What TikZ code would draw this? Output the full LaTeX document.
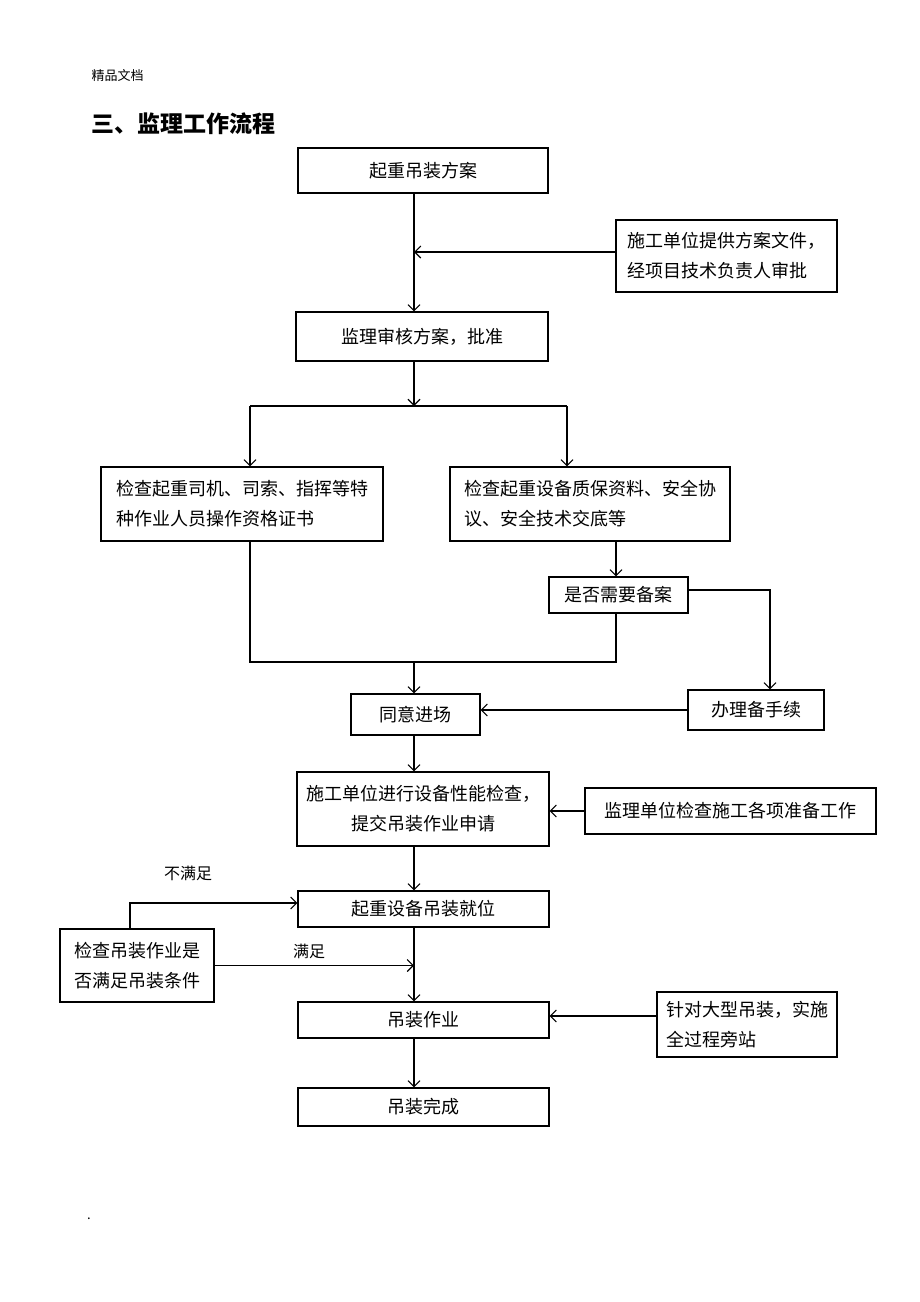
\documentclass[tikz,border=0pt]{standalone}
\usepackage{fontspec}
\setmainfont{Noto Sans CJK SC}
\usetikzlibrary{arrows.meta}
\tikzset{
  box/.style={draw,line width=1.1pt,inner sep=0pt,font=\fontsize{18}{30}\selectfont},
  lbl/.style={font=\fontsize{16}{20}\selectfont},
  line/.style={line width=1.1pt},
  arr/.style={line width=1.1pt,-{Straight Barb[length=6pt,width=12pt]}}
}
\begin{document}
\begin{tikzpicture}[x=1pt,y=-1pt]
\useasboundingbox (0,0) rectangle (920,1302);
\node[anchor=west,font=\fontsize{13}{15}\selectfont] (hd) at (88,76) {精品文档};
\node[anchor=west,font=\fontsize{23}{26}\selectfont\bfseries] (tt) at (88,124) {三、监理工作流程};
\node[box,minimum width=250,minimum height=45] (A) at (423,170.5) {起重吊装方案};
\node[box,minimum width=221,minimum height=72,align=left] (B) at (726.5,256) {施工单位提供方案文件，\\经项目技术负责人审批};
\node[box,minimum width=252,minimum height=49] (C) at (422,336.5) {监理审核方案，批准};
\node[box,minimum width=282,minimum height=74,align=left] (D) at (242,504) {检查起重司机、司索、指挥等特\\种作业人员操作资格证书};
\node[box,minimum width=280,minimum height=74,align=left] (E) at (590,504) {检查起重设备质保资料、安全协\\议、安全技术交底等};
\node[box,minimum width=139,minimum height=36] (F) at (618.5,595) {是否需要备案};
\node[box,minimum width=136,minimum height=40] (G) at (756,710) {办理备手续};
\node[box,minimum width=129,minimum height=41] (H) at (415.5,714.5) {同意进场};
\node[box,minimum width=252,minimum height=74,align=center] (I) at (423,809) {施工单位进行设备性能检查，\\提交吊装作业申请};
\node[box,minimum width=291,minimum height=46] (J) at (730.5,811) {监理单位检查施工各项准备工作};
\node[box,minimum width=251,minimum height=36] (K) at (423.5,909) {起重设备吊装就位};
\node[box,minimum width=154,minimum height=73,align=left] (L) at (137,965.5) {检查吊装作业是\\否满足吊装条件};
\node[box,minimum width=251,minimum height=36] (M) at (423.5,1020) {吊装作业};
\node[box,minimum width=180,minimum height=65,align=left] (N) at (747,1024.5) {针对大型吊装，实施\\全过程旁站};
\node[box,minimum width=251,minimum height=38] (O) at (423.5,1107) {吊装完成};
\node[lbl] (nsat) at (188,873) {不满足};
\node[lbl] (sat) at (309,951) {满足};
\node[font=\fontsize{13}{15}\selectfont] (dot) at (89,1219) {.};
\coordinate (sp) at (414,0);
\coordinate (br) at (414,406);
\coordinate (bl) at (250,406);
\coordinate (brr) at (567,406);
\coordinate (jl) at (250,662);
\coordinate (fj) at (616,662);
\coordinate (fg) at (770,590);
\coordinate (nf) at (130,903);
\coordinate (nm) at (0,1016);
\coordinate (bb) at (0,252);
\draw[arr] (A.south -| sp) -- (C.north -| sp);
\draw[arr] (B.west |- bb) -- (bb -| sp);
\draw[arr] (C.south -| sp) -- (br);
\draw[line] (bl) -- (brr);
\draw[arr] (bl) -- (bl |- D.north);
\draw[arr] (brr) -- (brr |- E.north);
\draw[arr] (fj |- E.south) -- (fj |- F.north);
\draw[line] (jl |- D.south) -- (jl) -- (fj) -- (fj |- F.south);
\draw[arr] (F.east |- fg) -- (fg) -- (fg |- G.north);
\draw[arr] (jl -| sp) -- (H.north -| sp);
\draw[arr] (G.west) -- (G.west -| H.east);
\draw[arr] (H.south -| sp) -- (I.north -| sp);
\draw[arr] (J.west) -- (J.west -| I.east);
\draw[arr] (I.south -| sp) -- (K.north -| sp);
\draw[arr] (nf |- L.north) -- (nf) -- (nf -| K.west);
\draw[arr] (L.east) -- (L.east -| sp);
\draw[arr] (K.south -| sp) -- (M.north -| sp);
\draw[arr] (N.west |- nm) -- (M.east |- nm);
\draw[arr] (M.south -| sp) -- (O.north -| sp);
\end{tikzpicture}
\end{document}
